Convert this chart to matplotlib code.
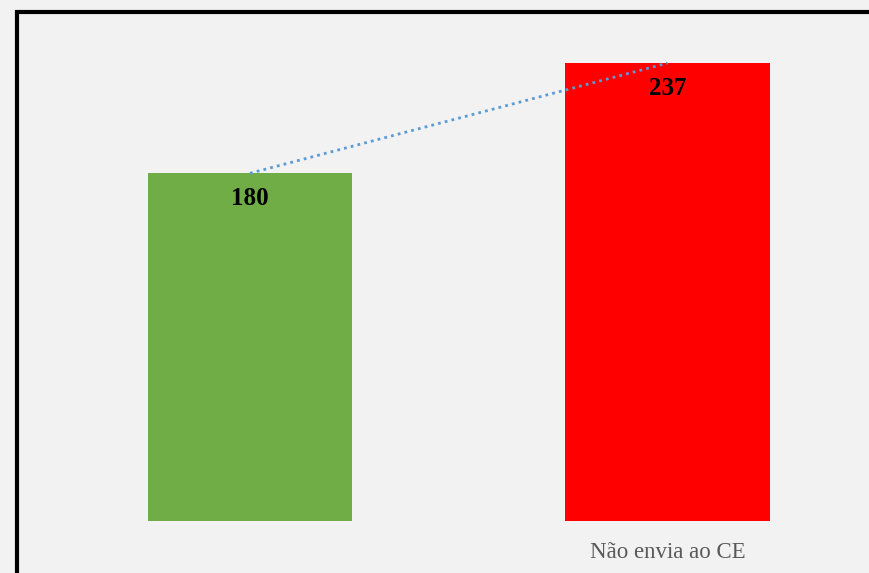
import matplotlib.pyplot as plt
from matplotlib.patches import Rectangle

# data
categories = ["", "Não envia ao CE"]
values = [180, 237]
bar_colors = ["#70ad47", "#ff0000"]

W, H = 869, 573
fig = plt.figure(figsize=(W / 100, H / 100), dpi=100, facecolor="#f2f2f2")

# axes placed in pixels: baseline at y=521, ~1.932 px per unit
ax = fig.add_axes([20.4 / W, 52 / H, 835 / W, 483 / H])
ax.set_facecolor("#f2f2f2")
ax.set_xlim(-0.55, 1.45)
ax.set_ylim(0, 250)

x = list(range(len(values)))
bars = ax.bar(x, values, width=0.489, color=bar_colors)

# dotted trend line between bar tops
ax.plot(x, values, linestyle=(0, (1, 1.5)), color="#5b9bd5", linewidth=2)

for xi, v in zip(x, values):
    ax.annotate(str(v), (xi, v), xytext=(0, -10), textcoords="offset points",
                ha="center", va="top", fontsize=18, fontweight="bold",
                family="Liberation Serif", color="black")

ax.set_xticks(x)
ax.set_xticklabels(categories, family="Liberation Serif", fontsize=16.5, color="#595959")
ax.tick_params(axis="x", length=0, pad=15)
ax.set_yticks([])
for s in ax.spines.values():
    s.set_visible(False)

# outer black frame, cut off at right and bottom
frame = Rectangle((16.5 / W, -1), 2, (H - 11.5) / H + 1, transform=fig.transFigure,
                  fill=False, edgecolor="black", linewidth=3, clip_on=False)
fig.patches.append(frame)

fig.savefig("out.png", dpi=100, facecolor=fig.get_facecolor())
